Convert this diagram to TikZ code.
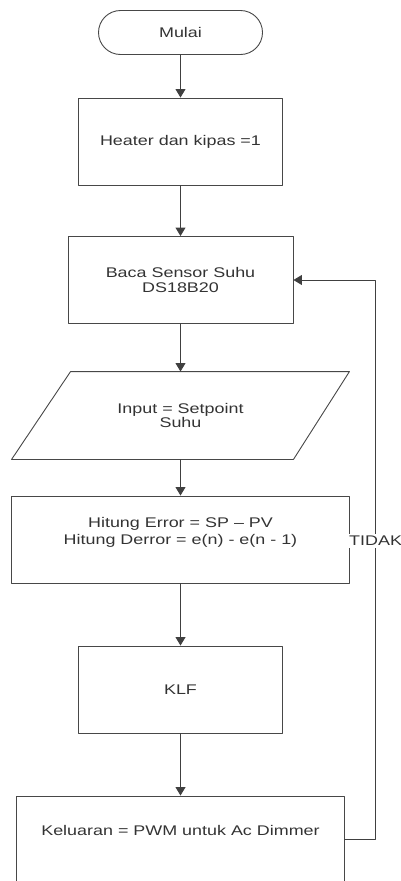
\documentclass[tikz,border=0pt]{standalone}
\usepackage{fontspec}
\setmainfont{Liberation Sans}[FakeStretch=1.28]
\usepackage{tikz}
\usetikzlibrary{arrows.meta}

\begin{document}
\begin{tikzpicture}[x=1pt,y=-1pt, line cap=round,line join=round,
	>={Triangle[length=8.5pt,width=10pt]},
	flow/.style={draw=black!72, line width=0.9pt, text=black!80, align=center,
		font=\fontsize{14}{14.7}\selectfont},
	terminal/.style={flow, rounded corners=22pt, minimum width=164pt, minimum height=44pt},
	proses/.style={flow, rectangle, minimum height=87pt},
	io/.style={flow, draw=none, minimum width=337pt, minimum height=87pt},
	teks/.style={text=black!80, align=center, font=\fontsize{14}{17.7}\selectfont},
	alur/.style={->, draw=black!75, line width=0.9pt}]
	
	% page frame
	\useasboundingbox (0,0) rectangle (400,881);
	
	% ---- blocks, top to bottom
	\node[terminal] (mulai) at (180.5,32.5) {Mulai};
	\node[proses, minimum width=204.5pt] (heater) at (180.5,141.5) {Heater dan kipas =1};
	\node[proses, minimum width=225pt] (baca) at (180.5,280) {Baca Sensor Suhu\\DS18B20};
	\node[io] (input) at (180.5,415.5) {Input = Setpoint\\Suhu};
	% slanted input box around (input)
	\draw[draw=black!72, line width=0.9pt]
		([xshift=59pt]input.north west) -- (input.north east)
		-- ([xshift=-56pt]input.south east) -- (input.south west) -- cycle;
	\node[proses, minimum width=337.5pt] (hitung) at (180.5,539.5) {};
	\node[teks] at ([yshift=7pt]hitung.center)
		{Hitung Error = SP -- PV\\Hitung Derror = e(n) - e(n - 1)};
	\node[proses, minimum width=204.5pt] (klf) at (180.5,689.5) {KLF};
	\node[proses, minimum width=327.5pt] (keluaran) at (180.5,839.5) {};
	\node[teks] at ([yshift=9.5pt]keluaran.center) {Keluaran = PWM untuk Ac Dimmer};
	
	% ---- main flow
	\draw[alur] (mulai) -- (heater);
	\draw[alur] (heater) -- (baca);
	\draw[alur] (baca) -- (input);
	\draw[alur] (input) -- (hitung);
	\draw[alur] (hitung) -- (klf);
	\draw[alur] (klf) -- (keluaran);
	
	% ---- loop back to the sensor
	\draw[alur] (keluaran.east) -- ++(31,0) |- (baca.east);
	\node[fill=white, anchor=west, inner xsep=1pt, inner ysep=2.5pt, text=black!80,
		font=\fontsize{14}{14}\selectfont] (tidak) at (348,541) {TIDAK};
	
\end{tikzpicture}
\end{document}
